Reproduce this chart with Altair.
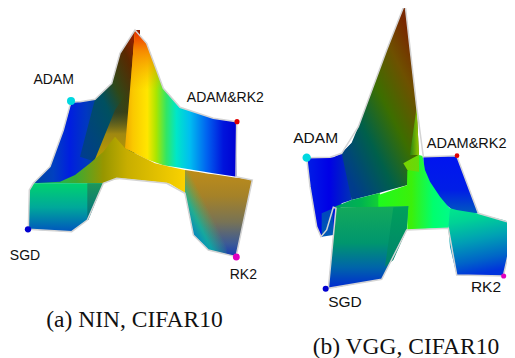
import altair as alt
import pandas as pd

W, H = 499, 350
X_DOM = [8, 8 + W]
Y_DOM = [8 + H, 8]

H_DIR = (0, 0, 1, 0)
V_DIR = (0, 0, 0, 1)
surf_a = [
 ([100,150,190,213,240,285,300],[490,440,330,248,245,238,225],[490,490,490,490,490,490,490],
  [(0,"#00469f"),(.3,"#0040c0"),(.55,"#001ee0"),(.8,"#0038c0"),(1,"#004490")],H_DIR),
 ([240,285,335,360,405,420],[410,238,190,100,30,30],[410,425,400,400,400,400],
  [(0,"#003c90"),(.45,"#005060"),(.62,"#304818"),(.85,"#5a2800"),(1,"#962000")],(0,.95,.9,.05)),
 ([280,345,385],[430,270,210],[430,400,400],[(0,"rgba(60,60,14,0)"),(.3,"rgba(70,60,14,0.6)"),(.6,"#a08810"),(1,"#c0a000")],V_DIR),
 ([375,405,440,490,540,640,710],[385,30,70,205,262,295,305],[385,400,418,436,443,460,470],
  [(0,"#f0aa00"),(.07,"#fac800"),(.2,"#ffe600"),(.28,"#aae600"),(.37,"#32e664"),(.46,"#00e6c8"),(.58,"#00bef0"),(.73,"#0064f0"),(.88,"#0014dc"),(1,"#0000d2")],H_DIR),
 ([390,405,440,490],[210,30,70,205],[210,210,210,210],
  [(0,"rgba(235,40,0,1)"),(.35,"rgba(245,130,0,0.9)"),(1,"rgba(245,170,0,0)")],V_DIR),
 ([100,180,225,270,310,345,375,465,510,555],[490,485,465,430,395,350,385,430,440,450],[490,490,490,490,490,478,476,485,491,520],
  [(0,"#00c86e"),(.28,"#3caa32"),(.46,"#969600"),(.62,"#c8ae00"),(1,"#fad200")],H_DIR),
 ([85,88,100,215,262,310],[628,510,490,490,490,490],[628,628,629,635,600,490],
  [(0,"#00d26e"),(.5,"#00a89a"),(1,"#0055be")],V_DIR),
 ([262,265,310],[490,490,490],[600,600,490],[(0,"#1e965a"),(1,"#006e82")],V_DIR),
 ([555,580,600,625,640,680,708,720,757],[450,454,457,461,463,469,473,474,480],[520,645,665,690,694,703,710,654,480],
  [(0,"#be8c19"),(.3,"#a58228"),(.6,"#787355"),(.85,"#3c5a96"),(1,"#143cb4")],V_DIR),
 ([555,580,600,625,640,680],[450,454,457,461,463,469],[520,645,665,690,694,703],
  [(.2,"rgba(0,130,200,0.95)"),(.35,"rgba(0,190,170,0.75)"),(.55,"rgba(60,190,110,0)")],(0,1,1,0)),
]
outline_a = [(213,245),(190,330),(150,440),(100,490),(88,510),(85,628),(215,635),(262,600),(310,490),(350,475),(500,490),(555,520),(580,645),(625,690),(708,710),(757,480),(708,470),(710,305),(640,295),(540,262),(490,205),(440,70),(405,30),(360,100),(335,190),(285,238),(240,245),(213,245)]
balls_a = [(213,243,"#00d8e0",64),(711,305,"#e00000",26),(84,628,"#0000d0",40),(709,711,"#e000c0",48)]
labels_a = [("ADAM",161,181,14),("ADAM&RK2",676,235,14),("SGD",75,708,14),("RK2",730,766,14)]

surf_b = [
 ([110,120,140,153,170,190,215,245],[473,473,472,472,472,472,460,430],[473,560,680,710,705,705,610,600],
  [(0,"#001ee6"),(.5,"#0000e6"),(1,"#0032b4")],H_DIR),
 ([155,190],[640,625],[710,705],[(0,"#0046be"),(1,"#005ab4")],V_DIR),
 ([460,560,625],[470,467,640],[560,640,640],[(0,"#0014f0"),(.6,"#001ee6"),(1,"#005abe")],V_DIR),
 ([215,245,265,325,350,405,412,440,447],[460,428,380,218,150,10,72,320,465],[460,600,595,580,572,557,555,525,520],
  [(0,"#003c8c"),(.3,"#00604a"),(.55,"#3c6e00"),(.8,"#6e5000"),(1,"#782800")],(.1,.9,.75,.05)),
 ([420,440,447],[465,320,465],[465,465,465],[(0,"#288210"),(1,"#96c800")],H_DIR),
 ([190,245,325,330],[622,600,580,580],[622,622,622,622],[(0,"#00a064"),(.6,"#00b450"),(1,"#14d232")],H_DIR),
 ([325,411,412,447,458,465,480,510,535,545],[585,556,512,465,468,510,545,590,620,630],[622,622,690,688,687,687,686,686,685,640],
  [(0,"#1efa1e"),(.45,"#3cf00a"),(.75,"#00ff6e"),(1,"#00fa8c")],H_DIR),
 ([400,412,445,447],[490,483,465,465],[490,510,515,515],[(0,"#78d200"),(1,"#64dc0a")],H_DIR),
 ([175,198,335,410,415],[865,622,620,618,618],[865,862,838,690,618],
  [(0,"#14aa5a"),(.45,"#00966e"),(.75,"#0064aa"),(1,"#0028d2")],V_DIR),
 ([345,370,410,415],[800,622,620,618],[800,780,690,618],[(0,"#00a05a"),(1,"#00826e")],V_DIR),
 ([535,540,560,620,700,735],[685,625,630,640,660,672],[685,740,825,827,828,672],
  [(0,"#00e68c"),(.2,"#00d296"),(.5,"#00a0b4"),(.8,"#0064c8"),(1,"#0032dc")],(.1,0,.3,1)),
]
outline_b = [(110,473),(120,560),(140,680),(153,710),(170,690),(190,622),(198,625),(175,865),(335,838),(410,690),(535,685),(560,825),(700,828),(735,672),(625,640),(560,467),(460,470),(440,320),(405,10),(350,150),(265,380),(215,460),(180,472),(110,473)]
balls_b = [(110,473,"#00d8e0",70),(561,467,"#e00000",22),(167,866,"#0000d0",36),(701,828,"#e000c0",26)]
labels_b = [("ADAM",137,413,15.5),("ADAM&RK2",590,431,14.5),("SGD",225,905,15.5),("RK2",648,861,15.5)]

captions = [("(a) NIN, CIFAR10",134.5,320),("(b) VGG, CIFAR10",406,347)]

def ax(x): return x / 3
def ay(y): return 20 + y / 3
def bx(x): return 270 + x / 3
def by(y): return y / 3

X = lambda f: alt.X(f, type="quantitative", scale=alt.Scale(domain=X_DOM), axis=None)
Y = lambda f: alt.Y(f, type="quantitative", scale=alt.Scale(domain=Y_DOM), axis=None)

def patch(xs, top, bot, stops, d, fx, fy):
    df = pd.DataFrame({"x": [fx(v) for v in xs], "y": [fy(v) for v in top], "y2": [fy(v) for v in bot]})
    grad = alt.LinearGradient(gradient="linear", stops=[alt.GradientStop(offset=o, color=c) for o, c in stops],
                              x1=d[0], y1=d[1], x2=d[2], y2=d[3])
    return alt.Chart(df).mark_area(color=grad, interpolate="linear", clip=True).encode(x=X("x"), y=Y("y"), y2=alt.Y2("y2"))

def figure(surf, outline, balls, labels, fx, fy):
    layers = [patch(*p, fx, fy) for p in surf]
    ol = pd.DataFrame({"x": [fx(p[0]) for p in outline], "y": [fy(p[1]) for p in outline], "i": range(len(outline))})
    layers.append(alt.Chart(ol).mark_line(color="#d4d4d4", strokeWidth=1.5, clip=True).encode(x=X("x"), y=Y("y"), order="i:Q"))
    for bxv, byv, c, s in balls:
        d = pd.DataFrame({"x": [fx(bxv)], "y": [fy(byv)]})
        layers.append(alt.Chart(d).mark_point(filled=True, shape="circle", color=c, size=s, opacity=1).encode(x=X("x"), y=Y("y")))
    for txt, lx, ly, fs in labels:
        t = pd.DataFrame({"x": [fx(lx)], "y": [fy(ly)], "t": [txt]})
        layers.append(alt.Chart(t).mark_text(font="Liberation Sans", fontSize=fs, color="#111111", baseline="middle", align="center").encode(x=X("x"), y=Y("y"), text="t:N"))
    return layers

layers = figure(surf_a, outline_a, balls_a, labels_a, ax, ay) + figure(surf_b, outline_b, balls_b, labels_b, bx, by)
cap = pd.DataFrame({"t": [c[0] for c in captions], "x": [c[1] for c in captions], "y": [c[2] for c in captions]})
layers.append(alt.Chart(cap).mark_text(font="Liberation Serif", fontSize=23.5, color="#111111", baseline="middle", align="center").encode(x=X("x"), y=Y("y"), text="t:N"))

chart = alt.layer(*layers).properties(width=W, height=H, padding=0, autosize=alt.AutoSizeParams(type="none"), background="white").configure_view(stroke=None)
chart.save("out.html", embed_options={"renderer": "svg", "actions": False})
